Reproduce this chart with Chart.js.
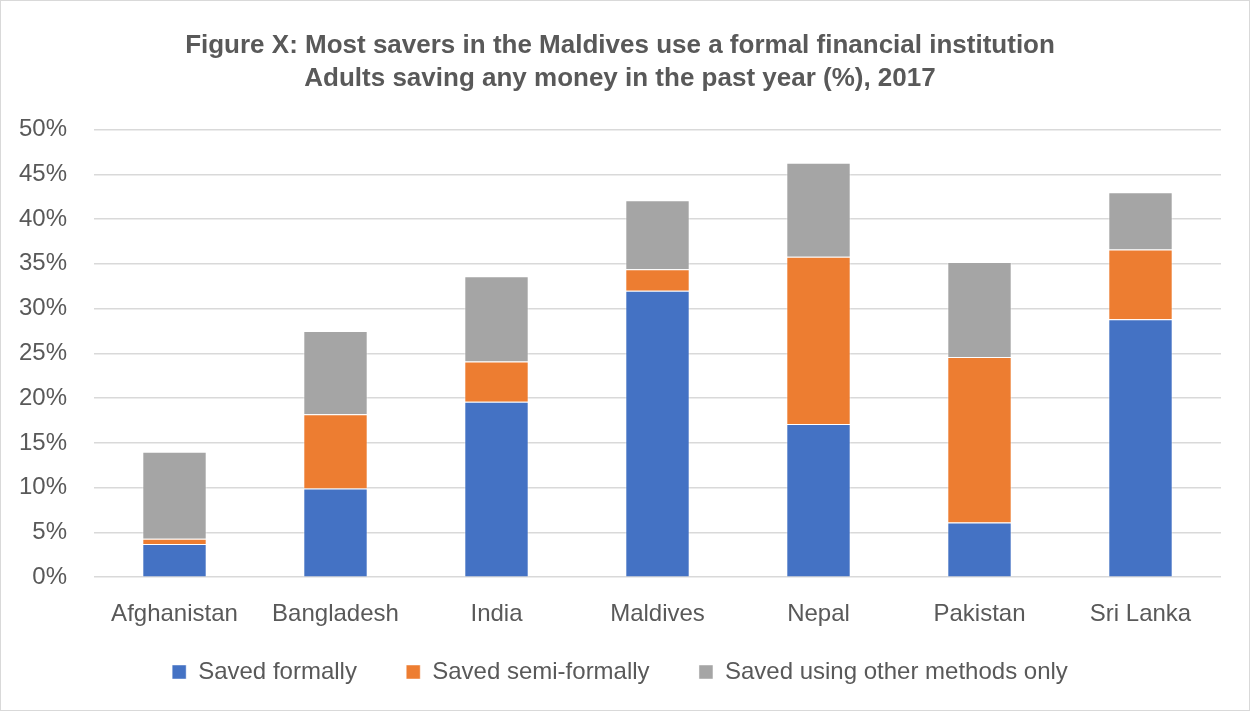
<!DOCTYPE html>
<html lang="en">
<head>
    <meta charset="UTF-8">
    <title>Savers in South Asia</title>
    <style>
        html, body {
            margin: 0;
            padding: 0;
            background: #ffffff;
        }
        .frame {
            position: absolute;
            left: 0;
            top: 0;
            width: 1248px;
            height: 709px;
            border: 1px solid #d9d9d9;
        }
    </style>
    <script src="https://cdn.jsdelivr.net/npm/chart.js"></script>
</head>
<body>
    <div class="frame">
        <canvas id="savingChart" width="1248" height="709"></canvas>
    </div>

    <script>
        const countries = ['Afghanistan', 'Bangladesh', 'India', 'Maldives', 'Nepal', 'Pakistan', 'Sri Lanka'];
        const savedFormally = [3.7, 9.9, 19.6, 32.0, 17.1, 6.1, 28.8];
        const savedSemiFormally = [0.6, 8.3, 4.5, 2.4, 18.7, 18.5, 7.8];
        const savedOtherOnly = [9.7, 9.3, 9.5, 7.7, 10.5, 10.6, 6.4];
        const titleLines = [
            'Figure X: Most savers in the Maldives use a formal financial institution',
            'Adults saving any money in the past year (%), 2017'
        ];

        const font = "'Liberation Sans', Arial, sans-serif";
        const textColor = '#595959';

        const ctx = document.getElementById('savingChart').getContext('2d');
        new Chart(ctx, {
            type: 'bar',
            data: {
                labels: countries,
                datasets: [
                    { label: 'Saved formally', data: savedFormally, backgroundColor: '#4472C4' },
                    { label: 'Saved semi-formally', data: savedSemiFormally, backgroundColor: '#ED7D31' },
                    { label: 'Saved using other methods only', data: savedOtherOnly, backgroundColor: '#A5A5A5' }
                ]
            },
            options: {
                responsive: false,
                animation: false,
                layout: { padding: { left: 18, right: 28, top: 0, bottom: 16 } },
                datasets: {
                    bar: {
                        categoryPercentage: 1.0,
                        barPercentage: 0.4,
                        borderWidth: 1,
                        borderColor: 'rgba(255,255,255,0.45)'
                    }
                },
                plugins: {
                    title: {
                        display: true,
                        text: titleLines,
                        color: textColor,
                        font: { family: font, size: 26, weight: 'bold', lineHeight: 1.27 },
                        padding: { top: 28.5, bottom: 34 }
                    },
                    legend: {
                        position: 'bottom',
                        labels: {
                            color: textColor,
                            font: { family: font, size: 24 },
                            boxWidth: 14,
                            boxHeight: 14,
                            padding: 16,
                            // wider gaps between items than the vertical padding allows
                            generateLabels: (chart) => {
                                const items = Chart.defaults.plugins.legend.labels.generateLabels(chart);
                                items.forEach((item, i) => {
                                    if (i < items.length - 1) item.text = item.text + '     ';
                                });
                                return items;
                            }
                        }
                    },
                    tooltip: { enabled: false }
                },
                scales: {
                    x: {
                        stacked: true,
                        grid: { display: false },
                        border: { display: false },
                        ticks: {
                            color: textColor,
                            font: { family: font, size: 24 },
                            padding: 15
                        }
                    },
                    y: {
                        stacked: true,
                        min: 0,
                        max: 50,
                        grid: { color: '#d9d9d9', lineWidth: 1.5, drawTicks: false },
                        border: { display: false },
                        afterFit: (scale) => { scale.width = 75; },
                        ticks: {
                            stepSize: 5,
                            color: textColor,
                            font: { family: font, size: 24 },
                            padding: 27,
                            callback: (value) => value + '%'
                        }
                    }
                }
            }
        });
    </script>
</body>
</html>
